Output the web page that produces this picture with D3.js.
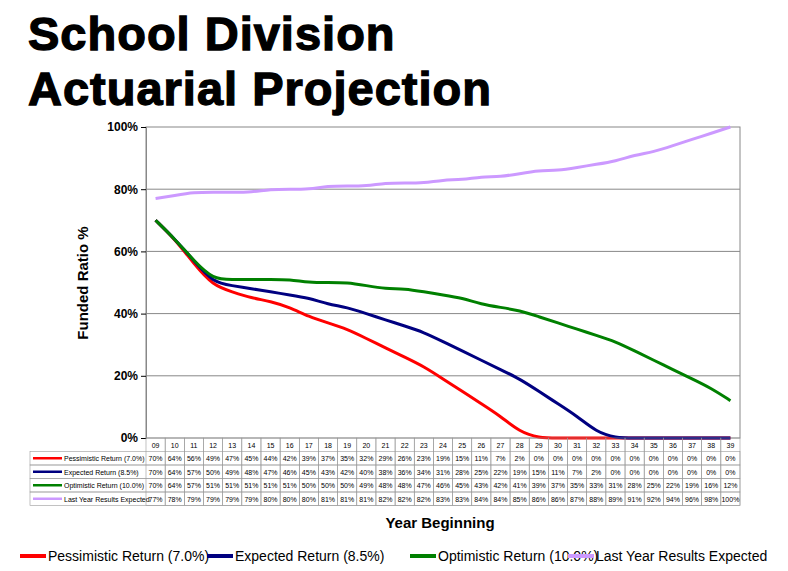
<!DOCTYPE html>
<html><head><meta charset="utf-8">
<script src="https://cdn.jsdelivr.net/npm/d3@7"></script>
<style>body{margin:0;background:#fff;font-family:Arial,"Liberation Sans",sans-serif}</style>
</head><body><svg id="chart" width="788" height="571"></svg>
<script>
var years=["09","10","11","12","13","14","15","16","17","18","19","20","21","22","23","24","25","26","27","28","29","30","31","32","33","34","35","36","37","38","39"];
var pessimistic=[70,64,56,49,47,45,44,42,39,37,35,32,29,26,23,19,15,11,7,2,0,0,0,0,0,0,0,0,0,0,0];
var expected=[70,64,57,50,49,48,47,46,45,43,42,40,38,36,34,31,28,25,22,19,15,11,7,2,0,0,0,0,0,0,0];
var optimistic=[70,64,57,51,51,51,51,51,50,50,50,49,48,48,47,46,45,43,42,41,39,37,35,33,31,28,25,22,19,16,12];
var lastYear=[77,78,79,79,79,79,80,80,80,81,81,81,82,82,82,83,83,84,84,85,86,86,87,88,89,91,92,94,96,98,100];
var yTicks=[0,20,40,60,80,100];
var series=[
  {name:"Pessimistic Return (7.0%)",values:pessimistic,color:"#ff0000"},
  {name:"Expected Return (8.5%)",values:expected,color:"#000080"},
  {name:"Optimistic Return (10.0%)",values:optimistic,color:"#008000"},
  {name:"Last Year Results Expected",values:lastYear,color:"#cc99ff"}
];

var svg=d3.select("#chart");
svg.append("text").attr("x",28).attr("y",50).attr("font-size",47).attr("font-weight","bold")
  .attr("stroke","#000").attr("stroke-width",1.3).attr("letter-spacing",1).text("School Division");
svg.append("text").attr("x",28).attr("y",105).attr("font-size",47).attr("font-weight","bold")
  .attr("stroke","#000").attr("stroke-width",1.3).attr("letter-spacing",1).text("Actuarial Projection");

var x=d3.scaleBand().domain(years).range([146,740]);
var y=d3.scaleLinear().domain([0,100]).range([438,127]);

svg.append("rect").attr("x",146).attr("y",127).attr("width",594).attr("height",311).attr("fill","none").attr("stroke","#888");
svg.selectAll(".grid").data(yTicks.slice(1,5)).enter().append("line")
  .attr("x1",146).attr("x2",740).attr("y1",function(d){return y(d);}).attr("y2",function(d){return y(d);})
  .attr("stroke","#888");
var ya=svg.append("g").attr("transform","translate(146,0)")
  .call(d3.axisLeft(y).tickValues(yTicks).tickFormat(function(d){return d+"%";}).tickSize(5));
ya.select(".domain").attr("stroke","#888");
ya.selectAll("text").attr("font-size",12).attr("font-weight","bold").attr("font-family","Arial");
svg.append("text").attr("transform","translate(88,283) rotate(-90)").attr("text-anchor","middle")
  .attr("font-size",15).attr("font-weight","bold").text("Funded Ratio %");

var line=d3.line().curve(d3.curveBasis)
  .x(function(d,i){return x(years[i])+x.bandwidth()/2;}).y(function(d){return y(d);});
series.forEach(function(s){
  svg.append("path").datum(s.values).attr("d",line).attr("fill","none")
    .attr("stroke",s.color).attr("stroke-width",3);
});

// data table
var rowH=13.5, tableTop=438;
var tbl=svg.append("g").attr("font-size",7).attr("font-family","Arial");
years.forEach(function(yr,i){
  tbl.append("rect").attr("x",x(yr)).attr("y",tableTop).attr("width",x.bandwidth()).attr("height",rowH*5)
    .attr("fill","none").attr("stroke","#999").attr("stroke-width",0.6);
  tbl.append("text").attr("x",x(yr)+x.bandwidth()/2).attr("y",tableTop+10).attr("text-anchor","middle").text(yr);
});
series.forEach(function(s,r){
  var ry=tableTop+rowH*(r+1);
  tbl.append("rect").attr("x",30).attr("y",ry).attr("width",710).attr("height",rowH)
    .attr("fill","none").attr("stroke","#999").attr("stroke-width",0.6);
  tbl.append("line").attr("x1",33).attr("x2",62).attr("y1",ry+rowH/2).attr("y2",ry+rowH/2)
    .attr("stroke",s.color).attr("stroke-width",2.5);
  tbl.append("text").attr("x",64).attr("y",ry+9.5).text(s.name);
  s.values.forEach(function(v,i){
    tbl.append("text").attr("x",x(years[i])+x.bandwidth()/2).attr("y",ry+9.5).attr("text-anchor","middle").text(v+"%");
  });
});

svg.append("text").attr("x",440).attr("y",528).attr("text-anchor","middle").attr("font-size",15)
  .attr("font-weight","bold").text("Year Beginning");

var lx=[20,207,410,568];
series.forEach(function(s,i){
  svg.append("line").attr("x1",lx[i]).attr("x2",lx[i]+26).attr("y1",556).attr("y2",556)
    .attr("stroke",s.color).attr("stroke-width",4);
  svg.append("text").attr("x",lx[i]+28).attr("y",561).attr("font-size",14).text(s.name);
});
</script></body></html>
